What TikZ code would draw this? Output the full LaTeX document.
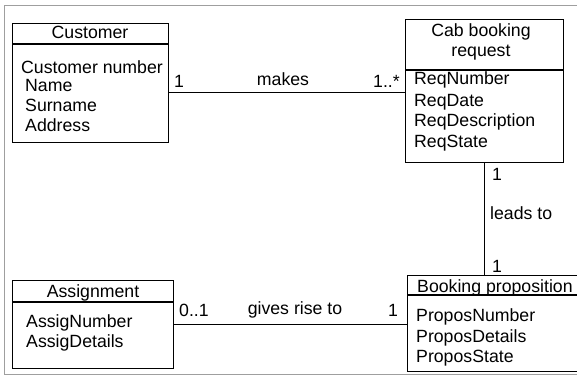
\documentclass[tikz,border=0pt]{standalone}
\usepackage{fontspec}
\setmainfont{Liberation Sans}
\begin{document}
\begin{tikzpicture}[x=1pt,y=-1pt,
  every node/.style={font=\fontsize{17.7}{20}\selectfont, inner sep=0pt},
  umlbox/.style={draw, line width=1.2pt, anchor=north west},
  attr/.style={anchor=base west},
  ttl/.style={anchor=base},
  lbl/.style={anchor=base west},
  conn/.style={line width=1.2pt},
  frame/.style={draw=gray!75, line width=1pt}]
\useasboundingbox (0,0) rectangle (577,379);
\clip (0,0) rectangle (577,379);
\fill[white] (0,0) rectangle (577,379);
\draw[frame] (4,374) -- (4,6) -- (600,6);
\draw[frame] (4,374) -- (600,374);

% boxes
\node[umlbox, minimum width=156pt, minimum height=119pt] (cust) at (12,23) {};
\node[umlbox, minimum width=158pt, minimum height=143pt] (cab) at (405,19) {};
\node[umlbox, minimum width=161pt, minimum height=88pt] (asg) at (12,280) {};
\node[umlbox, minimum width=190pt, minimum height=96pt] (bp) at (407,275) {};

% header lines
\draw[conn] ([yshift=-21pt]cust.north west) -- ([yshift=-21pt]cust.north east);
\draw[conn] ([yshift=-51pt]cab.north west) -- ([yshift=-51pt]cab.north east);
\draw[conn] ([yshift=-22pt]asg.north west) -- ([yshift=-22pt]asg.north east);
\draw[conn] ([yshift=-20pt]bp.north west) -- ([yshift=-20pt]bp.north east);

% titles
\node[ttl] (custT) at (90,39) {Customer};
\node[ttl] (cabT1) at (481,37) {Cab booking};
\node[ttl] (cabT2) at (481,57) {request};
\node[ttl] (asgT) at (93,297) {Assignment};
\node[attr] (bpT) at (417,292) {Booking proposition};

% attributes
\node[attr] (c1) at (21,74) {Customer number};
\node[attr] (c2) at (25,92) {Name};
\node[attr] (c3) at (25,112) {Surname};
\node[attr] (c4) at (25,132) {Address};

\node[attr] (r1) at (414,85) {ReqNumber};
\node[attr] (r2) at (414,107) {ReqDate};
\node[attr] (r3) at (414,127) {ReqDescription};
\node[attr] (r4) at (414,148) {ReqState};

\node[attr] (a1) at (26,327) {AssigNumber};
\node[attr] (a2) at (26,347) {AssigDetails};

\node[attr] (p1) at (416,321) {ProposNumber};
\node[attr] (p2) at (416,342) {ProposDetails};
\node[attr] (p3) at (416,362) {ProposState};

% connectors
\draw[conn] ([yshift=-1.5pt]cab.west -| cust.east) -- ([yshift=-1.5pt]cab.west);
\draw[conn] (cab.south) -- (cab.south |- bp.north);
\draw[conn] (asg.east) -- (asg.east -| bp.west);

% connector labels
\node[lbl] (m1) at (174,88) {1};
\node[ttl] (mk) at (283,86) {makes};
\node[lbl] (m2) at (373,88) {1..*};

\node[lbl] (l1) at (492,181) {1};
\node[lbl] (lt) at (490,219) {leads to};
\node[lbl] (l2) at (492,272) {1};

\node[lbl] (g1) at (179,316) {0..1};
\node[ttl] (gt) at (295,314) {gives rise to};
\node[lbl] (g2) at (388,316) {1};
\end{tikzpicture}
\end{document}
